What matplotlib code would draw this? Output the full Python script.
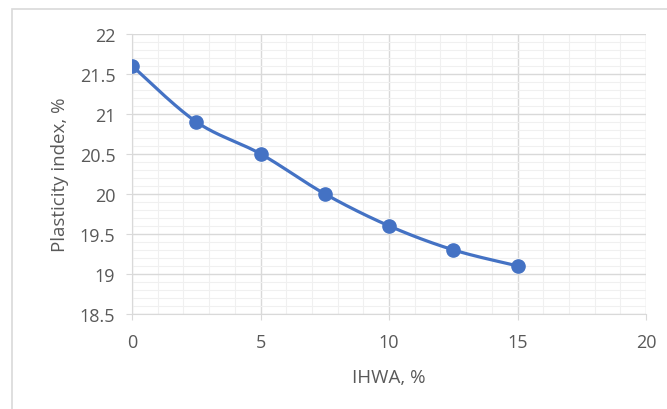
import matplotlib
matplotlib.use("Agg")
from matplotlib import pyplot as plt
from matplotlib.patches import Rectangle
from matplotlib.ticker import MultipleLocator
import numpy as np

ihwa = [0, 2.5, 5, 7.5, 10, 12.5, 15]
plasticity = [21.6, 20.9, 20.5, 20.0, 19.6, 19.3, 19.1]

BLUE = '#4472C4'
TEXT = '#595959'


def smooth_curve(x, y, steps=30):
    # Catmull-Rom spline through the points, like a spreadsheet "smoothed line"
    pts = np.column_stack([x, y]).astype(float)
    pts = np.vstack([pts[0], pts, pts[-1]])
    out = []
    for i in range(1, len(pts) - 2):
        p0, p1, p2, p3 = pts[i - 1], pts[i], pts[i + 1], pts[i + 2]
        for t in np.linspace(0, 1, steps, endpoint=False):
            t2, t3 = t * t, t * t * t
            out.append(0.5 * ((2 * p1) + (-p0 + p2) * t
                              + (2 * p0 - 5 * p1 + 4 * p2 - p3) * t2
                              + (-p0 + 3 * p1 - 3 * p2 + p3) * t3))
    out.append(pts[-2])
    out = np.array(out)
    return out[:, 0], out[:, 1]


plt.rcParams['font.family'] = ['Open Sans', 'DejaVu Sans']

fig = plt.figure(figsize=(6.67, 4.10), dpi=100)
ax = fig.add_axes([0.198, 0.232, 0.7705, 0.683])

# chart area border (runs off the right and bottom edges)
fig.patches.append(Rectangle((12 / 667, -10 / 410), 700 / 667, 410 / 410,
                             transform=fig.transFigure, fill=False,
                             edgecolor='#D9D9D9', linewidth=1.2))

sx, sy = smooth_curve(ihwa, plasticity)
ax.plot(sx, sy, color=BLUE, linewidth=2.3, zorder=3)
ax.plot(ihwa, plasticity, 'o', color=BLUE, markersize=9.5, zorder=4)

ax.set_xlim(0, 20)
ax.set_ylim(18.5, 22)
ax.xaxis.set_major_locator(MultipleLocator(5))
ax.xaxis.set_minor_locator(MultipleLocator(1))
ax.yaxis.set_major_locator(MultipleLocator(0.5))
ax.yaxis.set_minor_locator(MultipleLocator(0.1))
ax.set_yticks(np.arange(18.5, 22.01, 0.5))
ax.set_yticklabels(['18.5', '19', '19.5', '20', '20.5', '21', '21.5', '22'])

ax.grid(which='major', color='#D9D9D9', linewidth=1)
ax.grid(which='minor', color='#F0F0F0', linewidth=0.8)
ax.set_axisbelow(True)

for side in ['top', 'right']:
    ax.spines[side].set_visible(False)
ax.spines['left'].set_color('#D9D9D9')
ax.spines['bottom'].set_color('#D9D9D9')
ax.tick_params(which='major', length=4, color='#D9D9D9', labelcolor=TEXT,
               labelsize=13)
ax.tick_params(which='minor', length=0)
ax.tick_params(axis='x', pad=10)
ax.tick_params(axis='y', pad=8)

ax.set_xlabel('IHWA, %', color=TEXT, fontsize=13.5, labelpad=12)
ax.set_ylabel('Plasticity index, %', color=TEXT, fontsize=13.5, labelpad=8)

fig.savefig('out.png', dpi=100)
